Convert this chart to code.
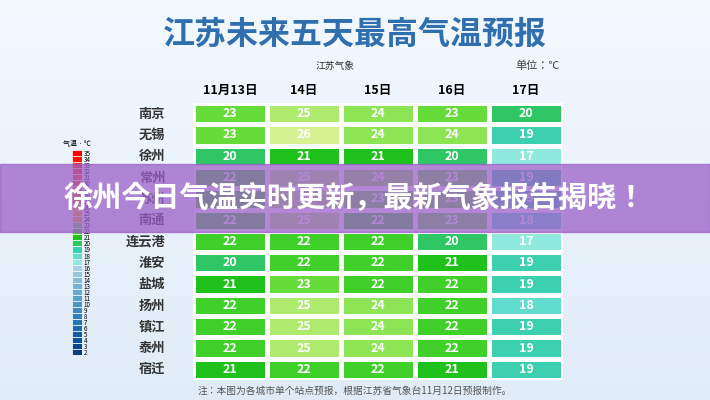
import numpy as np, pandas as pd, seaborn as sns, matplotlib
matplotlib.use("Agg")
import matplotlib.pyplot as plt
from matplotlib import font_manager as fm
from matplotlib.colors import ListedColormap, BoundaryNorm

cjk = None
for f in fm.fontManager.ttflist:
    if "CJK" in f.name and ("SC" in f.name or cjk is None):
        cjk = f.name
plt.rcParams["font.family"] = [cjk or "Noto Sans CJK SC", "DejaVu Sans"]

cities = ["南京","无锡","徐州","常州","苏州","南通","连云港","淮安","盐城","扬州","镇江","泰州","宿迁"]
days = ["11月13日","14日","15日","16日","17日"]
d13 = [23,23,20,22,22,22,22,20,21,22,22,22,21]
d14 = [25,26,21,25,25,25,22,22,23,25,25,25,22]
d15 = [24,24,21,24,23,22,22,22,22,24,24,24,22]
d16 = [23,24,20,23,23,23,20,21,22,22,22,22,21]
d17 = [20,19,17,19,19,18,17,19,19,18,19,19,19]

df = pd.DataFrame({d: v for d, v in zip(days, [d13,d14,d15,d16,d17])}, index=cities)

levels = [17,18,19,20,21,22,23,24,25,26]
colors = ["#8fe9de","#5fdccb","#3ccfb0","#2fc766","#1fc21a","#3fd12a","#66dc3a","#8de455","#aeea6e","#d6f192"]
cmap = ListedColormap(colors)
norm = BoundaryNorm([l-0.5 for l in levels]+[26.5], cmap.N)

fig = plt.figure(figsize=(7.1,4.0), dpi=100)
bg = fig.add_axes([0,0,1,1]); bg.axis("off")
grad = np.linspace(0,1,200)[:,None]
bg.imshow(grad, aspect="auto", cmap=ListedColormap(plt.cm.Blues(np.linspace(0.02,0.12,50))), extent=[0,1,0,1], transform=bg.transAxes)

ax = fig.add_axes([193/710, 1-380/400, 370/710, 277/400])
sns.heatmap(df, ax=ax, cmap=cmap, norm=norm, annot=True, fmt="d", cbar=False,
            linewidths=2.5, linecolor="white",
            annot_kws={"color":"white","fontsize":9,"fontweight":"bold"})
ax.xaxis.tick_top()
ax.tick_params(length=0, labelsize=9)
ax.set_xlabel(""); ax.set_ylabel("")
for t in ax.get_xticklabels(): t.set_fontweight("bold")
ax.set_yticklabels(cities, rotation=0, fontsize=9.5, fontweight="bold", color="#333333")
ax.tick_params(axis="y", pad=20)
ax.tick_params(axis="x", pad=4)

# legend bar
lax = fig.add_axes([72/710, 1-355/400, 10/710, 205/400])
vals = np.arange(2,36)
for v in vals:
    if v >= 24: c = plt.cm.autumn_r(min(1,(v-24)/11)*0.7+0.3)
    elif v >= 17: c = colors[levels.index(v)]
    else: c = plt.cm.Blues(0.35+0.6*(16-v)/14)
    lax.add_patch(plt.Rectangle((0,v-0.5),1,1,color=c,ec="white",lw=0.5))
lax.set_xlim(0,1); lax.set_ylim(1.5,35.5)
lax.set_xticks([]); lax.yaxis.tick_right()
lax.set_yticks(vals); lax.tick_params(length=0, labelsize=4.5, pad=1)
for s in lax.spines.values(): s.set_visible(False)
fig.text(77/710, 1-146/400, "气温 · ℃", fontsize=5, ha="center")

fig.text(0.5, 1-35/400, "江苏未来五天最高气温预报", fontsize=23, fontweight="bold", color="#2f6fae", ha="center", va="center")
fig.text(335/710, 1-66/400, "江苏气象", fontsize=7, ha="center", va="center", color="#333333")
fig.text(515/710, 1-66/400, "单位：℃", fontsize=8, ha="left", va="center", color="#444444")
fig.text(0.5, 1-391/400, "注：本图为各城市单个站点预报，根据江苏省气象台11月12日预报制作。", fontsize=7, ha="center", va="center", color="#555555")

top = fig.add_axes([0,0,1,1]); top.axis("off"); top.set_xlim(0,1); top.set_ylim(0,1)
top.add_patch(plt.Rectangle((0,1-232/400),1,68/400, color="#9a5fc8", alpha=0.75))
top.text(0.5, 1-198/400, "徐州今日气温实时更新，最新气象报告揭晓！", fontsize=21, fontweight="bold", color="white", ha="center", va="center")

fig.savefig("out.png", dpi=100)
